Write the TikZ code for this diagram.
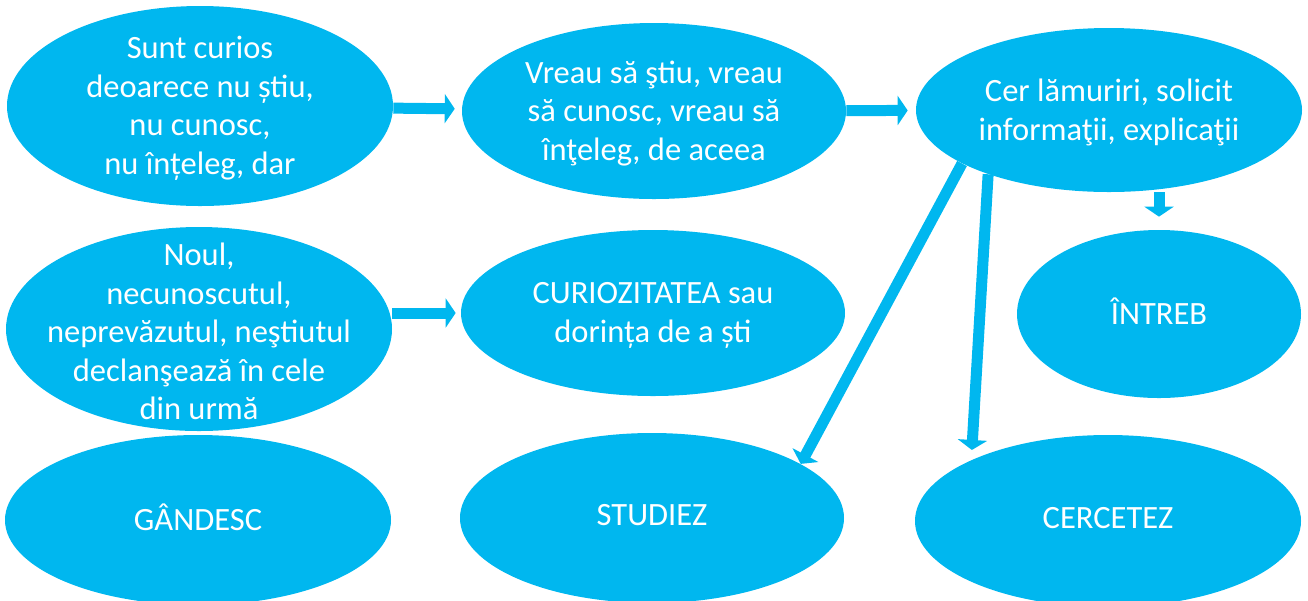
\documentclass[tikz,border=0pt]{standalone}
\usepackage{fontspec}
\setmainfont{Carlito}
\usetikzlibrary{arrows.meta,shapes.geometric}
\definecolor{sky}{RGB}{0,183,239}
\begin{document}
\begin{tikzpicture}[x=0.02cm,y=-0.02cm]
				\tikzstyle{Blob} = [ellipse, fill=sky, inner sep=0pt]
				\tikzstyle{Words} = [text=white, align=center, inner sep=0pt, yshift=-0.05cm, font=\fontsize{18.5}{21.9}\selectfont]
				\tikzstyle{Word} = [Words, yshift=0.1cm]
				\tikzstyle{Push} = [sky, line width=0.22cm, -{Triangle[width=0.58cm,length=0.2cm]}]
				\useasboundingbox (0,0) rectangle (1308,600);
				\node (e1) at (200,106) [Blob, minimum width=386*0.02cm, minimum height=200*0.02cm, label={[Words]center:Sunt curios\\deoarece nu știu,\\nu cunosc,\\nu înțeleg, dar}] {};
				\node (e2) at (654,111) [Blob, minimum width=384*0.02cm, minimum height=176*0.02cm, label={[Words]center:Vreau să ştiu, vreau\\să cunosc, vreau să\\înţeleg, de aceea}] {};
				\node (e3) at (1109,110) [Blob, minimum width=386*0.02cm, minimum height=164*0.02cm, label={[Words]center:Cer lămuriri, solicit\\informaţii, explicaţii}] {};
				\node (e4) at (199,329) [Blob, minimum width=386*0.02cm, minimum height=204*0.02cm, label={[Words]center:Noul,\\necunoscutul,\\neprevăzutul, neştiutul\\declanşează în cele\\din urmă}] {};
				\node (e5) at (653,313) [Blob, minimum width=384*0.02cm, minimum height=166*0.02cm, label={[Words]center:CURIOZITATEA sau\\dorința de a ști}] {};
				\node (e6) at (1159,314) [Blob, minimum width=284*0.02cm, minimum height=168*0.02cm, label={[Word]center:ÎNTREB}] {};
				\node (e7) at (198,520) [Blob, minimum width=386*0.02cm, minimum height=170*0.02cm, label={[Word]center:GÂNDESC}] {};
				\node (e8) at (652,518) [Blob, minimum width=384*0.02cm, minimum height=170*0.02cm, label={[Word]center:STUDIEZ}] {};
				\node (e9) at (1108,521) [Blob, minimum width=386*0.02cm, minimum height=172*0.02cm, label={[Word]center:CERCETEZ}] {};
				\draw [Push, shorten >=0.14cm] (e1) to (e2);
				\draw [Push, shorten >=0.16cm] (e2) to (e3);
				\draw [Push, shorten >=0.1cm] (e4.east |- e5) to (e5.west);
				\draw [Push, shorten >=0.26cm] (e6.north |- e3.south) to (e6.north);
				\draw [Push] (e3.200) to (e8.20);
				\draw [Push, shorten >=0.2cm] (e3.208) to (e9.north west);
			\end{tikzpicture}
\end{document}
